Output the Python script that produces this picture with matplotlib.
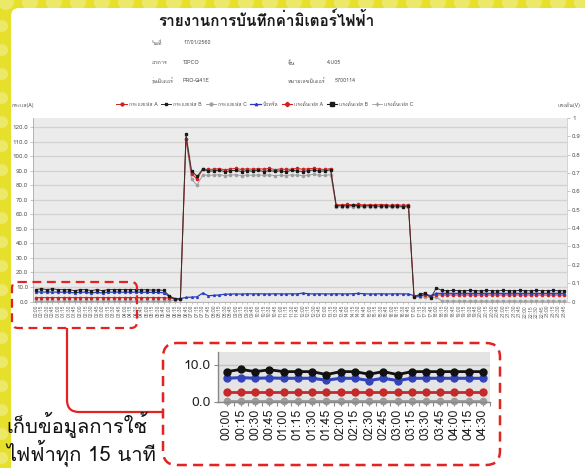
import matplotlib
matplotlib.use("Agg")
import matplotlib.pyplot as plt
import matplotlib.font_manager as fm
from matplotlib.ft2font import FT2Font
from matplotlib.patches import FancyBboxPatch, Circle, PathPatch
from matplotlib.path import Path
import numpy as np

# ---------------- fonts (need Thai glyphs) ----------------
def find_thai_font():
    names = []
    for f in fm.fontManager.ttflist:
        try:
            cm = FT2Font(f.fname).get_charmap()
            if 0x0E01 in cm and 0x0E32 in cm:
                names.append(f.name)
        except Exception:
            pass
    return names

thai = find_thai_font()
fams = ([thai[0]] if thai else []) + ['DejaVu Sans']
plt.rcParams['font.family'] = fams

# ---------------- data ----------------
title = "รายงานการบันทึกค่ามิเตอร์ไฟฟ้า"
info_labels = ["วันที่", "อาคาร", "รุ่นมิเตอร์", "ชั้น", "หมายเลขมิเตอร์"]
info_values = ["17/01/2560", "TIPCO", "PRO-Q41E", "4.U05", "5700114"]
series_names = ["กระแสเฟส A", "กระแสเฟส B", "กระแสเฟส C", "นิวทรัล",
                "แรงดันเฟส A", "แรงดันเฟส B", "แรงดันเฟส C"]
left_label = "กระแส(A)"
right_label = "แรงดัน(V)"
note_lines = ["เก็บข้อมูลการใช้", "ไฟฟ้าทุก 15 นาที"]

times = [f"{h:02d}:{m:02d}" for h in range(24) for m in (0, 15, 30, 45)]

current_a = [2.7, 2.7, 2.7, 2.7, 2.7, 2.7, 2.7, 2.7, 2.7, 2.7, 2.7, 2.7,
             2.7, 2.7, 2.7, 2.7, 2.7, 2.7, 2.7, 2.7, 2.7, 2.7, 2.7, 2.6,
             2.4, 1.8, 1.8, 112.0, 88.0, 84.0, 91.0, 90.8, 91.0, 91.4, 90.6, 91.2,
             91.5, 90.8, 91.3, 90.9, 91.4, 91.0, 91.6, 90.7, 91.2, 90.8, 91.1, 91.5,
             90.9, 91.3, 91.6, 91.0, 90.8, 91.4, 66.6, 66.4, 66.8, 66.5, 66.9, 66.3,
             66.6, 66.4, 66.7, 66.5, 66.2, 66.6, 66.1, 66.5, 4.0, 4.2, 4.6, 3.8,
             4.6, 4.5, 4.5, 4.5, 4.5, 4.5, 4.5, 4.5, 4.5, 4.5, 4.5, 4.5,
             4.5, 4.5, 4.5, 4.5, 4.5, 4.5, 4.5, 4.5, 4.5, 4.5, 4.5, 4.5]
current_b = [8.2, 8.8, 8.2, 8.7, 8.2, 8.2, 8.2, 7.4, 8.2, 8.2, 7.5, 8.2,
             7.4, 8.2, 8.2, 8.2, 8.2, 8.2, 8.2, 8.0, 8.2, 7.8, 8.0, 7.6,
             4.0, 1.5, 2.0, 115.0, 90.0, 86.0, 91.0, 89.6, 89.8, 90.4, 89.2, 90.0,
             90.2, 89.4, 90.0, 89.6, 90.4, 89.3, 90.1, 89.5, 89.9, 89.2, 90.3, 89.8,
             89.4, 90.0, 90.5, 89.6, 89.8, 90.6, 65.8, 66.0, 65.7, 66.1, 65.9, 65.6,
             66.0, 65.8, 65.5, 65.9, 65.4, 65.8, 65.3, 65.7, 3.0, 5.0, 6.0, 2.4,
             9.3, 7.6, 7.4, 7.6, 7.5, 7.4, 7.6, 7.5, 7.3, 7.6, 7.5, 7.4,
             7.6, 7.5, 7.4, 7.6, 7.5, 7.4, 7.6, 7.5, 7.5, 7.6, 7.4, 7.5]
current_c = [0.2, 0.2, 0.2, 0.2, 0.2, 0.2, 0.2, 0.2, 0.2, 0.2, 0.2, 0.2,
             0.2, 0.2, 0.2, 0.2, 0.2, 0.2, 0.2, 0.2, 0.2, 0.2, 0.2, 0.2,
             0.5, 1.0, 1.5, 112.0, 84.0, 80.0, 87.0, 86.8, 87.0, 87.3, 86.5, 87.1,
             87.2, 86.6, 87.0, 86.8, 87.2, 86.7, 87.1, 86.6, 86.9, 86.5, 87.2, 86.9,
             86.6, 87.0, 87.4, 86.8, 86.7, 87.3, 65.1, 65.0, 65.2, 65.1, 65.3, 64.9,
             65.1, 65.0, 65.2, 65.0, 64.8, 65.1, 64.7, 65.0, 3.0, 3.0, 3.2, 2.8,
             3.0, 0.4, 0.3, 0.3, 0.3, 0.3, 0.3, 0.3, 0.3, 0.3, 0.3, 0.3,
             0.3, 0.3, 0.3, 0.3, 0.3, 0.3, 0.3, 0.3, 0.3, 0.3, 0.3, 0.3]
neutral = [6.4, 6.6, 6.4, 6.5, 6.4, 6.4, 6.4, 5.9, 6.4, 6.4, 5.8, 6.4,
           5.8, 6.4, 6.4, 6.4, 6.4, 6.4, 6.4, 6.3, 6.4, 6.2, 6.3, 6.0,
           3.5, 2.0, 2.0, 2.8, 3.0, 3.2, 5.8, 4.0, 4.2, 4.5, 5.0, 5.1,
           5.2, 5.1, 5.3, 5.2, 5.3, 5.2, 5.2, 5.3, 5.2, 5.2, 5.3, 5.2,
           5.8, 5.3, 5.2, 5.3, 5.2, 5.2, 5.3, 5.2, 5.2, 5.3, 5.6, 5.3,
           5.2, 5.2, 5.3, 5.2, 5.2, 5.3, 5.2, 5.2, 4.0, 3.5, 5.0, 4.0,
           5.6, 5.6, 5.6, 5.6, 5.6, 5.6, 5.6, 5.6, 5.6, 5.6, 5.6, 5.6,
           5.6, 5.6, 5.6, 5.6, 5.6, 5.6, 5.6, 5.6, 5.6, 5.6, 5.6, 5.6]
voltage_a = []
voltage_b = []
voltage_c = []

zoom_count = 19  # 00:00 .. 04:30

# ---------------- figure ----------------
W, H = 585, 468
fig = plt.figure(figsize=(W / 100, H / 100), dpi=100)
fig.patch.set_facecolor('#e6df2c')

# background axes in pixel coordinates
bg = fig.add_axes([0, 0, 1, 1], zorder=-5)
bg.set_xlim(0, W); bg.set_ylim(H, 0); bg.axis('off')
for cx in np.arange(6, W + 20, 24):
    bg.add_patch(Circle((cx, 2), 8, color='#ece86a', lw=0))
for cy in np.arange(26, H + 20, 24):
    bg.add_patch(Circle((2, cy), 6, color='#ece86a', lw=0))
bg.add_patch(FancyBboxPatch((11, 8), W, H, boxstyle="round,pad=0,rounding_size=8",
                            fc='white', ec='none'))

# ---------------- main chart ----------------
x = np.arange(len(times))
ax = fig.add_axes([33 / W, 1 - 301.5 / H, (567 - 33) / W, (301.5 - 118) / H])
ax.set_facecolor('#ebebeb')
ax.set_xlim(-0.5, len(times) - 0.5)
ax.set_ylim(0, 126.2)
ax.set_yticks(np.arange(0, 121, 10))
ax.set_yticklabels([f"{v:.1f}" for v in np.arange(0, 121, 10)])
ax.grid(axis='y', color='#d2d2d2', lw=0.9)
ax.set_axisbelow(True)
ax.set_xticks(x)
ax.set_xticklabels(times, rotation=90, fontsize=3.6, color='#666666')
ax.tick_params(axis='x', length=1.5, width=0.4, pad=1, color='#999999')
ax.tick_params(axis='y', labelsize=4.5, labelcolor='#555555', length=2, width=0.4,
               pad=1.5, color='#999999')
for s in ['top', 'right']:
    ax.spines[s].set_visible(False)
for s in ['left', 'bottom']:
    ax.spines[s].set_color('#aaaaaa'); ax.spines[s].set_linewidth(0.6)

red, blk, gry, blu = '#cc2222', '#1a1a1a', '#a0a0a0', '#2b3dbf'
ms = 1.6
l3, = ax.plot(x, current_c, color=gry, lw=0.7, marker='o', ms=ms, label=series_names[2])
l1, = ax.plot(x, current_a, color=red, lw=0.7, marker='o', ms=ms, label=series_names[0])
l4, = ax.plot(x, neutral, color=blu, lw=0.9, marker='^', ms=1.3, label=series_names[3])
l2, = ax.plot(x, current_b, color='#3a3030', lw=0.7, marker='s', ms=1.4, mfc=blk, mec=blk,
              label=series_names[1])

ax2 = ax.twinx()
ax2.set_ylim(0, 1)
ax2.set_yticks(np.arange(0, 1.01, 0.1))
ax2.set_yticklabels(["0"] + [f"{v:.1f}" for v in np.arange(0.1, 0.95, 0.1)] + ["1"])
ax2.tick_params(axis='y', labelsize=4.5, labelcolor='#555555', length=2, width=0.4,
                pad=1.5, color='#999999')
for s in ['top', 'left', 'bottom']:
    ax2.spines[s].set_visible(False)
ax2.spines['right'].set_color('#cccccc'); ax2.spines['right'].set_linewidth(0.6)
l5, = ax2.plot(voltage_a, color=red, lw=0.8, marker='P', ms=2.2, label=series_names[4])
l6, = ax2.plot(voltage_b, color=blk, lw=0.8, marker='s', ms=2.2, label=series_names[5])
l7, = ax2.plot(voltage_c, color=gry, lw=0.6, marker='+', ms=2.7, label=series_names[6])

fig.legend(handles=[l1, l2, l3, l4, l5, l6, l7], loc='center',
           bbox_to_anchor=(265 / W, 1 - 104 / H), ncol=7, fontsize=3.7, frameon=False,
           handlelength=2.0, handletextpad=0.4, columnspacing=0.7, labelcolor='#555555',
           markerscale=1.3)

# ---------------- zoomed inset ----------------
zx = np.arange(zoom_count)
ax3 = fig.add_axes([218 / W, 1 - 402 / H, (490 - 218) / W, (402 - 352) / H])
ax3.set_facecolor('#e4e4e4')
ax3.set_xlim(-0.62, zoom_count - 1 + 0.14)
ax3.set_ylim(0, 13.5)
ax3.set_yticks([0, 10])
ax3.set_yticklabels(["0.0", "10.0"])
ax3.grid(axis='y', color='#c4c4c4', lw=1.0)
ax3.set_axisbelow(True)
ax3.set_xticks(zx)
ax3.set_xticklabels(times[:zoom_count], rotation=90, fontsize=9, color='#222222')
ax3.set_xticks(zx + 0.5, minor=True)
ax3.tick_params(axis='x', which='both', length=3, width=0.8, color='#888888', pad=2)
ax3.tick_params(axis='y', labelsize=10, labelcolor='#222222', length=3, width=0.8,
                color='#888888', pad=2)
for s in ['top', 'right']:
    ax3.spines[s].set_visible(False)
for s in ['left', 'bottom']:
    ax3.spines[s].set_color('#888888'); ax3.spines[s].set_linewidth(1.0)
ax3.plot(zx, current_c[:zoom_count], color='#9a9a9a', lw=2, marker='o', ms=4.5, clip_on=False)
ax3.plot(zx, current_a[:zoom_count], color='#c42a2a', lw=2, marker='o', ms=5, clip_on=False)
ax3.plot(zx, neutral[:zoom_count], color='#3344bb', lw=2.2, marker='o', ms=5, clip_on=False)
ax3.plot(zx, current_b[:zoom_count], color='#111111', lw=2, marker='o', ms=5, clip_on=False)

# ---------------- overlay: texts and annotations ----------------
ov = fig.add_axes([0, 0, 1, 1], zorder=10)
ov.set_xlim(0, W); ov.set_ylim(H, 0); ov.axis('off')
ov.patch.set_alpha(0)

ov.text(266, 20, title, ha='center', va='center', fontsize=11, fontweight='bold',
        color='#1a1a1a')
ic = '#555555'
ov.text(152, 43, info_labels[0], fontsize=3.9, color=ic, va='center')
ov.text(183, 43, info_values[0], fontsize=3.9, color=ic, va='center')
ov.text(152, 63, info_labels[1], fontsize=3.9, color=ic, va='center')
ov.text(183, 63, info_values[1], fontsize=3.9, color=ic, va='center')
ov.text(288, 63, info_labels[3], fontsize=3.9, color=ic, va='center')
ov.text(327, 63, info_values[3], fontsize=3.9, color=ic, va='center')
ov.text(152, 81, info_labels[2], fontsize=3.9, color=ic, va='center')
ov.text(183, 81, info_values[2], fontsize=3.9, color=ic, va='center')
ov.text(288, 81, info_labels[4], fontsize=3.9, color=ic, va='center')
ov.text(335, 81, info_values[4], fontsize=3.9, color=ic, va='center')
ov.text(12, 105, left_label, fontsize=3.8, color=ic, va='center')
ov.text(557, 105, right_label, fontsize=3.8, color=ic, va='center')

rc = '#e32222'
ov.add_patch(FancyBboxPatch((12, 282), 125, 46, boxstyle="round,pad=0,rounding_size=6",
                            fc='none', ec=rc, lw=1.6, ls=(0, (4, 2.5))))
ov.add_patch(FancyBboxPatch((163, 343), 337, 122, boxstyle="round,pad=0,rounding_size=14",
                            fc='none', ec=rc, lw=1.8, ls=(0, (4, 2.5))))
verts = [(67, 328), (67, 400), (67, 412), (79, 412), (163, 412)]
codes = [Path.MOVETO, Path.LINETO, Path.CURVE3, Path.CURVE3, Path.LINETO]
ov.add_patch(PathPatch(Path(verts, codes), fc='none', ec=rc, lw=1.6))

ov.text(6, 439, "\n".join(note_lines), fontsize=14.5, color='#111111', va='center',
        linespacing=1.05)

fig.savefig("out.png", dpi=100, facecolor=fig.get_facecolor())
